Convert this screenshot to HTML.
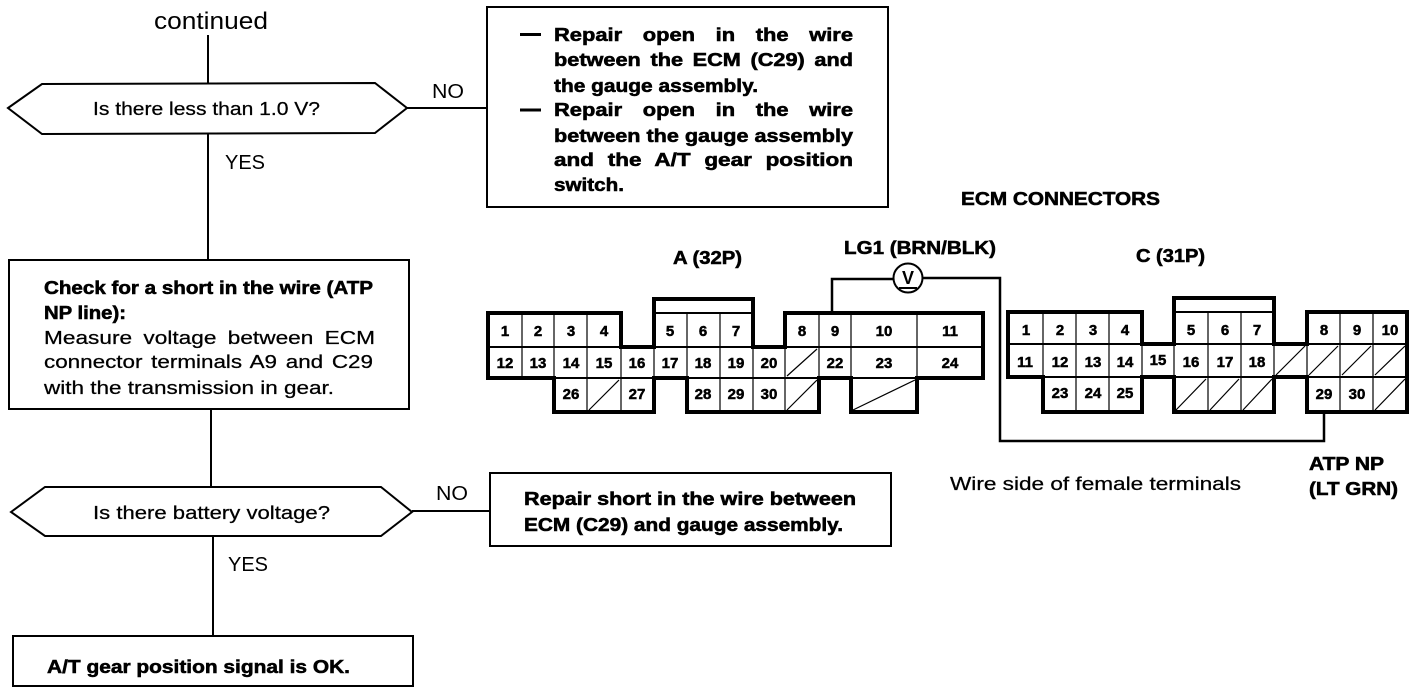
<!DOCTYPE html>
<html><head><meta charset="utf-8"><style>
html,body{margin:0;padding:0;background:#fff;width:1424px;height:692px;overflow:hidden}
svg{display:block}
text{font-family:"Liberation Sans",sans-serif;fill:#000}
.b{font-weight:bold;font-size:18px;stroke:#000;stroke-width:.55px}
.n{font-weight:bold;font-size:15px;text-anchor:middle;stroke:#000;stroke-width:.5px}
.r{font-size:18px;stroke:#000;stroke-width:.25px}
.l{font-size:20px}
.th{fill:none;stroke:#000;stroke-width:2}
.t{fill:none;stroke:#000;stroke-width:1.2}
.o{fill:none;stroke:#000;stroke-width:4;stroke-linejoin:miter}
</style></head><body>
<svg width="1424" height="692" viewBox="0 0 1424 692" xmlns="http://www.w3.org/2000/svg">
<!-- flow lines -->
<path class="th" d="M208 35V83M208 134V260M211 409V488M213 537V636M407 108H487M412 511H490"/>
<!-- shapes -->
<polygon class="th" points="8,108 42,84 375,83 407,108 375,133 42,134"/>
<polygon class="th" points="11,512 45,487 381,487 412,512 381,536 45,536"/>
<rect class="th" x="487" y="7" width="401" height="200"/>
<rect class="th" x="9" y="260" width="400" height="149"/>
<rect class="th" x="490" y="473" width="401" height="73"/>
<rect class="th" x="13" y="636" width="400" height="50"/>
<!-- flow text -->
<text x="154" y="29" font-size="24" textLength="114" lengthAdjust="spacingAndGlyphs">continued</text>
<text class="r" x="93" y="115" textLength="227" lengthAdjust="spacingAndGlyphs">Is there less than 1.0 V?</text>
<text class="l" x="432" y="98" textLength="32" lengthAdjust="spacingAndGlyphs">NO</text>
<text class="l" x="225" y="169" textLength="40" lengthAdjust="spacingAndGlyphs">YES</text>
<text class="r" x="93" y="519" textLength="237" lengthAdjust="spacingAndGlyphs">Is there battery voltage?</text>
<text class="l" x="436" y="500" textLength="32" lengthAdjust="spacingAndGlyphs">NO</text>
<text class="l" x="228" y="571" textLength="40" lengthAdjust="spacingAndGlyphs">YES</text>
<!-- repair box -->
<path d="M520 34.500H541M520 110H541" stroke="#000" stroke-width="3"/>
<text class="b" x="554" y="41" textLength="299" lengthAdjust="spacingAndGlyphs" word-spacing="12">Repair open in the wire</text>
<text class="b" x="554" y="66" textLength="299" lengthAdjust="spacingAndGlyphs" word-spacing="3">between the ECM (C29) and</text>
<text class="b" x="554" y="92" textLength="204" lengthAdjust="spacingAndGlyphs">the gauge assembly.</text>
<text class="b" x="554" y="116" textLength="299" lengthAdjust="spacingAndGlyphs" word-spacing="12">Repair open in the wire</text>
<text class="b" x="554" y="142" textLength="299" lengthAdjust="spacingAndGlyphs">between the gauge assembly</text>
<text class="b" x="554" y="166" textLength="299" lengthAdjust="spacingAndGlyphs" word-spacing="6">and the A/T gear position</text>
<text class="b" x="554" y="191" textLength="70" lengthAdjust="spacingAndGlyphs">switch.</text>
<!-- check box -->
<text class="b" x="44" y="294" textLength="329" lengthAdjust="spacingAndGlyphs">Check for a short in the wire (ATP</text>
<text class="b" x="44" y="319" textLength="82" lengthAdjust="spacingAndGlyphs">NP line):</text>
<text class="r" x="44" y="344" textLength="331" lengthAdjust="spacingAndGlyphs" word-spacing="4">Measure voltage between ECM</text>
<text class="r" x="44" y="368" textLength="329" lengthAdjust="spacingAndGlyphs" word-spacing="2">connector terminals A9 and C29</text>
<text class="r" x="44" y="394" textLength="290" lengthAdjust="spacingAndGlyphs">with the transmission in gear.</text>
<text class="b" x="524" y="505" textLength="332" lengthAdjust="spacingAndGlyphs">Repair short in the wire between</text>
<text class="b" x="524" y="531" textLength="319" lengthAdjust="spacingAndGlyphs">ECM (C29) and gauge assembly.</text>
<text class="b" x="47" y="673" textLength="303" lengthAdjust="spacingAndGlyphs">A/T gear position signal is OK.</text>
<!-- connector labels -->
<text class="b" x="961" y="205" textLength="199" lengthAdjust="spacingAndGlyphs">ECM CONNECTORS</text>
<text class="b" x="844" y="254" textLength="152" lengthAdjust="spacingAndGlyphs">LG1 (BRN/BLK)</text>
<text class="b" x="673" y="264" textLength="69" lengthAdjust="spacingAndGlyphs">A (32P)</text>
<text class="b" x="1136" y="262" textLength="69" lengthAdjust="spacingAndGlyphs">C (31P)</text>
<text class="r" x="950" y="490" textLength="291" lengthAdjust="spacingAndGlyphs">Wire side of female terminals</text>
<text class="b" x="1309" y="470" textLength="75" lengthAdjust="spacingAndGlyphs">ATP NP</text>
<text class="b" x="1309" y="495" textLength="89" lengthAdjust="spacingAndGlyphs">(LT GRN)</text>
<!-- wires -->
<path class="o" style="stroke-width:2.500" d="M832 313V279H894M922 278H1000V441H1324V412"/>
<circle cx="908" cy="278" r="14.500" fill="#fff" stroke="#000" stroke-width="2"/>
<text x="908" y="284" font-size="18" font-weight="bold" text-anchor="middle">V</text>
<path d="M899 288H917" stroke="#000" stroke-width="2"/>

<!-- connector A grid -->
<path class="t" d="M522 313V378M554 313V412M587 313V412M621 347V412M654 347V378M687 313V412M720 313V412M753 347V412M785 347V412M819 313V412M851 313V412M917 313V412"/>
<path class="th" d="M488 347H983M488 378H983M654 313H753"/>
<path class="t" d="M787 376L817 349M787 410L817 380M589 410L619 380M853 410L915 380"/>
<path class="o" d="M488 313H621V347H654V299H753V347H785V313H983V378H917V412H851V378H819V412H687V378H654V412H554V378H488Z"/>
<text class="n" x="505" y="336">1</text><text class="n" x="538" y="336">2</text><text class="n" x="571" y="336">3</text><text class="n" x="604" y="336">4</text>
<text class="n" x="670" y="336">5</text><text class="n" x="703" y="336">6</text><text class="n" x="736" y="336">7</text>
<text class="n" x="802" y="336">8</text><text class="n" x="835" y="336">9</text><text class="n" x="884" y="336">10</text><text class="n" x="950" y="336">11</text>
<text class="n" x="505" y="368">12</text><text class="n" x="538" y="368">13</text><text class="n" x="571" y="368">14</text><text class="n" x="604" y="368">15</text><text class="n" x="637" y="368">16</text><text class="n" x="670" y="368">17</text><text class="n" x="703" y="368">18</text><text class="n" x="736" y="368">19</text><text class="n" x="769" y="368">20</text><text class="n" x="835" y="368">22</text><text class="n" x="884" y="368">23</text><text class="n" x="950" y="368">24</text>
<text class="n" x="571" y="399">26</text><text class="n" x="637" y="399">27</text><text class="n" x="703" y="399">28</text><text class="n" x="736" y="399">29</text><text class="n" x="769" y="399">30</text>

<!-- connector C grid -->
<path class="t" d="M1043 312V412M1076 312V412M1109 312V412M1142 344V377M1174 344V412M1208 312V412M1241 312V412M1274 344V412M1307 344V377M1340 312V412M1373 312V412"/>
<path class="th" d="M1008 344H1407M1008 377H1407M1174 312H1274"/>
<path class="t" d="M1176 410L1206 379M1210 410L1239 379M1243 410L1272 379M1276 375L1305 346M1309 375L1338 346M1342 375L1371 346M1375 375L1405 346M1375 410L1405 379"/>
<path class="o" d="M1008 312H1142V344H1174V298H1274V344H1307V312H1407V412H1307V377H1274V412H1174V377H1142V412H1043V377H1008Z"/>
<text class="n" x="1026" y="335">1</text><text class="n" x="1060" y="335">2</text><text class="n" x="1093" y="335">3</text><text class="n" x="1125" y="335">4</text>
<text class="n" x="1191" y="335">5</text><text class="n" x="1225" y="335">6</text><text class="n" x="1257" y="335">7</text>
<text class="n" x="1324" y="335">8</text><text class="n" x="1357" y="335">9</text><text class="n" x="1390" y="335">10</text>
<text class="n" x="1025" y="367">11</text><text class="n" x="1060" y="367">12</text><text class="n" x="1093" y="367">13</text><text class="n" x="1125" y="367">14</text><text class="n" x="1158" y="365">15</text><text class="n" x="1191" y="367">16</text><text class="n" x="1225" y="367">17</text><text class="n" x="1257" y="367">18</text>
<text class="n" x="1060" y="398">23</text><text class="n" x="1093" y="398">24</text><text class="n" x="1125" y="398">25</text><text class="n" x="1324" y="399">29</text><text class="n" x="1357" y="399">30</text>
</svg>
</body></html>
